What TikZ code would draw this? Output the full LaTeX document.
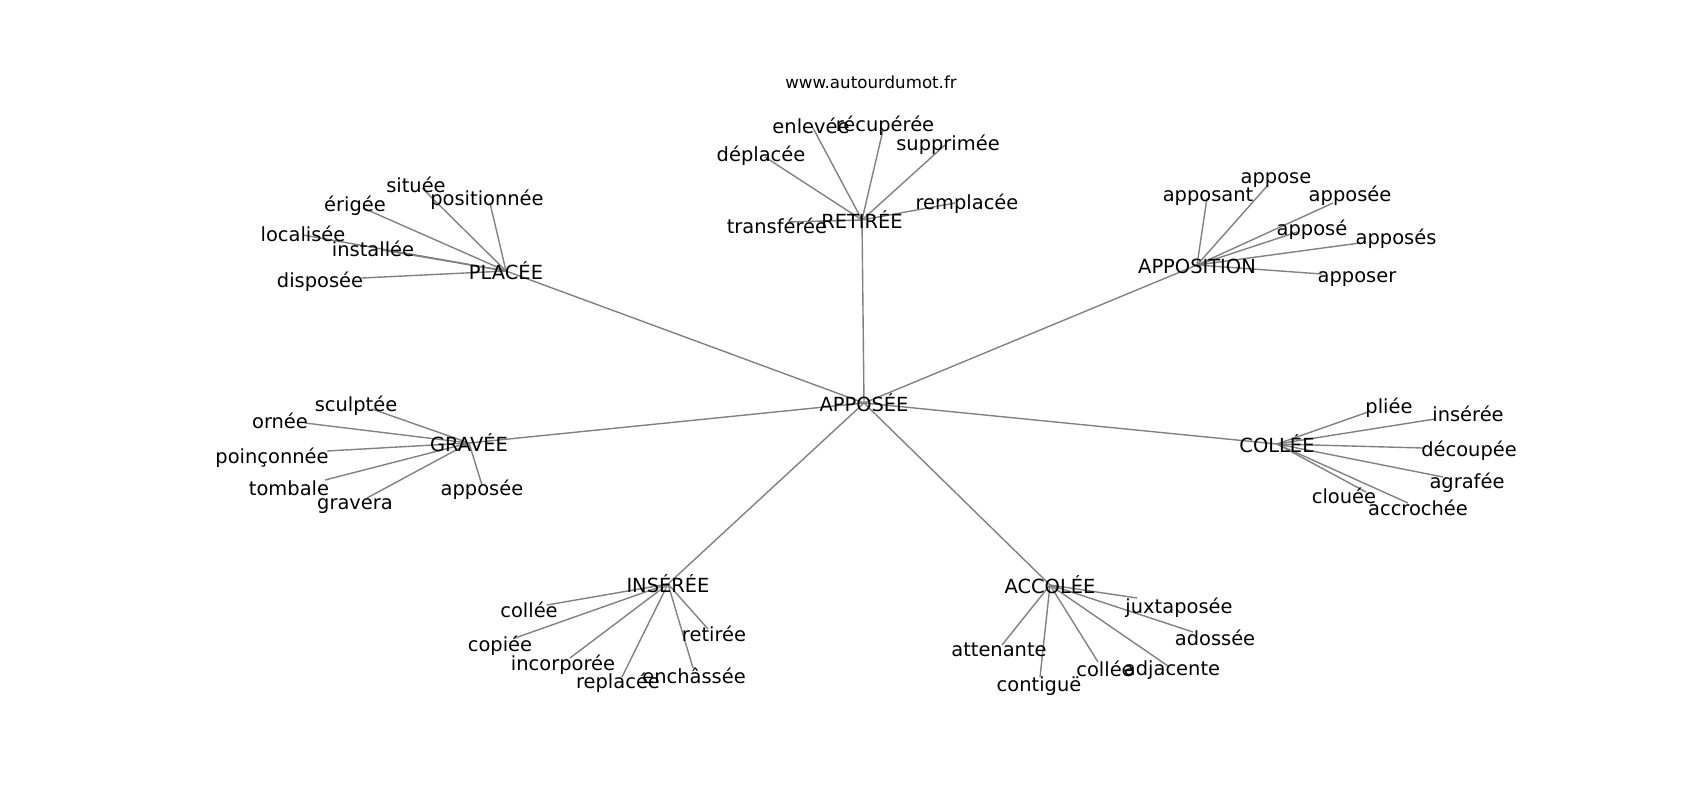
\documentclass[tikz,border=0pt]{standalone}
\usepackage{fontspec}
\setmainfont{DejaVu Sans}
\usetikzlibrary{backgrounds}
\tikzset{
  hub/.style={inner sep=0pt, font=\fontsize{14}{16}\selectfont, text height=12.4pt, text depth=0pt},
  leaf/.style={inner sep=0pt, font=\fontsize{14}{16}\selectfont, text height=12.4pt, text depth=0pt},
  ttl/.style={inner sep=0pt, font=\fontsize{12}{14}\selectfont, text height=0.73em, text depth=0pt},
  ed/.style={draw=gray, line width=1pt}
}
\begin{document}
\begin{tikzpicture}[x=0.72pt, y=-0.72pt]
    \useasboundingbox (0,0) rectangle (1700,800);
    \node[ttl] (site) at (871,83) {www.autourdumot.fr};

    % Centre and first ring
    \node[hub] (apposee) at (864,403) {APPOSÉE};
    \node[hub] (placee) at (506,271) {PLACÉE};
    \node[hub] (retiree) at (862,220) {RETIRÉE};
    \node[hub] (apposition) at (1197,265) {APPOSITION};
    \node[hub] (gravee) at (469,443) {GRAVÉE};
    \node[hub] (collee) at (1277,444) {COLLÉE};
    \node[hub] (inseree) at (668,584) {INSÉRÉE};
    \node[hub] (accolee) at (1050,585) {ACCOLÉE};

    % Around PLACÉE
    \node[leaf] (situee) at (416,184) {située};          \coordinate (situee-e) at (422,188);
    \node[leaf] (positionnee) at (487,197) {positionnée}; \coordinate (positionnee-e) at (490,203);
    \node[leaf] (erigee) at (355,203) {érigée};          \coordinate (erigee-e) at (363,208);
    \node[leaf] (localisee) at (303,233) {localisée};    \coordinate (localisee-e) at (303,235);
    \node[leaf] (installee) at (373,248) {installée};    \coordinate (installee-e) at (382,250);
    \node[leaf] (disposee) at (320,279) {disposée};      \coordinate (disposee-e) at (362,278);

    % Around RETIRÉE
    \node[leaf] (enlevee) at (811,125) {enlevée};        \coordinate (enlevee-e) at (813,128);
    \node[leaf] (recuperee) at (885,123) {récupérée};    \coordinate (recuperee-e) at (883,130);
    \node[leaf] (supprimee) at (948,142) {supprimée};    \coordinate (supprimee-e) at (945,145);
    \node[leaf] (deplacee) at (761,153) {déplacée};      \coordinate (deplacee-e) at (765,157);
    \node[leaf] (remplacee) at (967,201) {remplacée};    \coordinate (remplacee-e) at (955,203);
    \node[leaf] (transferee) at (777,225) {transférée};  \coordinate (transferee-e) at (787,222);

    % Around APPOSITION
    \node[leaf] (apposant) at (1208,193) {apposant};     \coordinate (apposant-e) at (1207,198);
    \node[leaf] (appose) at (1276,175) {appose};         \coordinate (appose-e) at (1268,185);
    \node[leaf] (apposee-b) at (1350,193) {apposée};     \coordinate (apposee-b-e) at (1333,203);
    \node[leaf] (appose-b) at (1312,227) {apposé};       \coordinate (appose-b-e) at (1297,232);
    \node[leaf] (apposes) at (1396,236) {apposés};       \coordinate (apposes-e) at (1360,243);
    \node[leaf] (apposer) at (1357,274) {apposer};       \coordinate (apposer-e) at (1322,274);

    % Around GRAVÉE
    \node[leaf] (sculptee) at (356,403) {sculptée};      \coordinate (sculptee-e) at (372,409);
    \node[leaf] (ornee) at (280,420) {ornée};            \coordinate (ornee-e) at (305,423);
    \node[leaf] (poinconnee) at (272,455) {poinçonnée};  \coordinate (poinconnee-e) at (327,451);
    \node[leaf] (tombale) at (289,487) {tombale};        \coordinate (tombale-e) at (325,480);
    \node[leaf] (gravera) at (355,501) {gravera};        \coordinate (gravera-e) at (367,498);
    \node[leaf] (apposee-c) at (482,487) {apposée};      \coordinate (apposee-c-e) at (482,485);

    % Around COLLÉE
    \node[leaf] (pliee) at (1389,405) {pliée};           \coordinate (pliee-e) at (1368,412);
    \node[leaf] (inseree-b) at (1468,413) {insérée};     \coordinate (inseree-b-e) at (1435,419);
    \node[leaf] (decoupee) at (1469,448) {découpée};     \coordinate (decoupee-e) at (1423,448);
    \node[leaf] (agrafee) at (1467,480) {agrafée};       \coordinate (agrafee-e) at (1443,477);
    \node[leaf] (accrochee) at (1418,507) {accrochée};   \coordinate (accrochee-e) at (1408,503);
    \node[leaf] (clouee) at (1344,495) {clouée};         \coordinate (clouee-e) at (1366,492);

    % Around INSÉRÉE
    \node[leaf] (collee-b) at (529,609) {collée};        \coordinate (collee-b-e) at (547,605);
    \node[leaf] (copiee) at (500,643) {copiée};          \coordinate (copiee-e) at (515,638);
    \node[leaf] (incorporee) at (563,662) {incorporée};  \coordinate (incorporee-e) at (570,658);
    \node[leaf] (replacee) at (618,680) {replacée};      \coordinate (replacee-e) at (622,677);
    \node[leaf] (enchassee) at (694,675) {enchâssée};    \coordinate (enchassee-e) at (693,668);
    \node[leaf] (retiree-b) at (714,633) {retirée};      \coordinate (retiree-b-e) at (708,629);

    % Around ACCOLÉE
    \node[leaf] (juxtaposee) at (1179,605) {juxtaposée}; \coordinate (juxtaposee-e) at (1137,598);
    \node[leaf] (adossee) at (1215,637) {adossée};       \coordinate (adossee-e) at (1193,632);
    \node[leaf] (attenante) at (999,648) {attenante};    \coordinate (attenante-e) at (1002,645);
    \node[leaf] (contigue) at (1039,683) {contiguë};     \coordinate (contigue-e) at (1040,677);
    \node[leaf] (collee-c) at (1105,668) {collée};       \coordinate (collee-c-e) at (1098,662);
    \node[leaf] (adjacente) at (1172,667) {adjacente};   \coordinate (adjacente-e) at (1168,666);

    % Edges, under the words
    \begin{scope}[on background layer]
    \foreach \h in {placee,retiree,apposition,gravee,collee,inseree,accolee}
        \draw[ed] (apposee.center) -- (\h.center);
    \foreach \l in {situee,positionnee,erigee,localisee,installee,disposee}
        \draw[ed] (placee.center) -- (\l-e);
    \foreach \l in {enlevee,recuperee,supprimee,deplacee,remplacee,transferee}
        \draw[ed] (retiree.center) -- (\l-e);
    \foreach \l in {apposant,appose,apposee-b,appose-b,apposes,apposer}
        \draw[ed] (apposition.center) -- (\l-e);
    \foreach \l in {sculptee,ornee,poinconnee,tombale,gravera,apposee-c}
        \draw[ed] (gravee.center) -- (\l-e);
    \foreach \l in {pliee,inseree-b,decoupee,agrafee,accrochee,clouee}
        \draw[ed] (collee.center) -- (\l-e);
    \foreach \l in {collee-b,copiee,incorporee,replacee,enchassee,retiree-b}
        \draw[ed] (inseree.center) -- (\l-e);
    \foreach \l in {juxtaposee,adossee,attenante,contigue,collee-c,adjacente}
        \draw[ed] (accolee.center) -- (\l-e);
    \end{scope}
\end{tikzpicture}
\end{document}
